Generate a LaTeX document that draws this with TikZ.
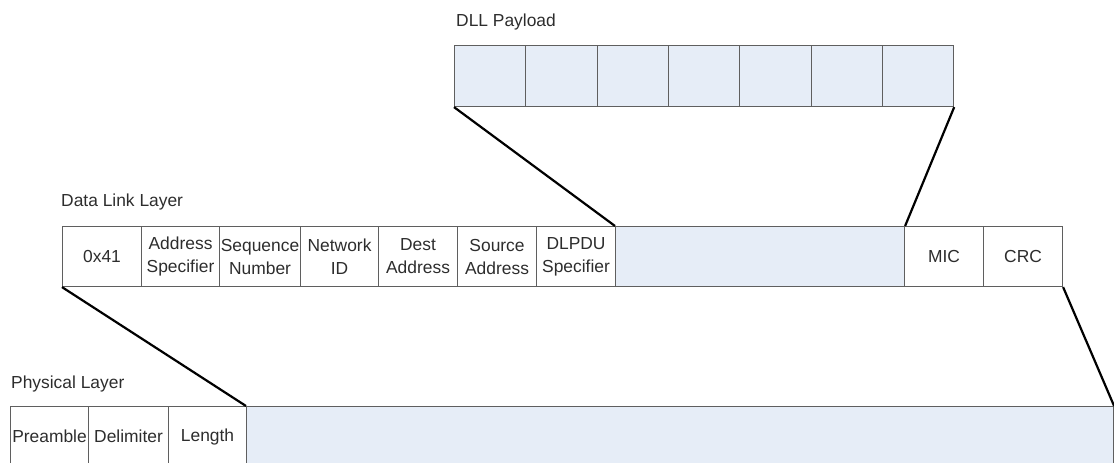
\documentclass[tikz,border=0pt]{standalone}
\usepackage{fontspec}
\setmainfont{Liberation Sans}
\definecolor{feldblau}{RGB}{230,237,247}
\definecolor{rahmen}{RGB}{95,95,95}
\definecolor{schrift}{RGB}{45,45,45}

\begin{document}
\begin{tikzpicture}[x=1pt,y=1pt,
    zelle/.style={draw=rahmen, line width=1.1pt, anchor=north west, minimum height=60pt, inner sep=0pt, align=center, text=schrift, font=\fontsize{17.4}{23}\selectfont},
    nutz/.style={zelle, fill=feldblau},
    titel/.style={anchor=west, inner sep=0pt, text=schrift, font=\fontsize{17.4}{23}\selectfont},
    verbind/.style={line width=2.2pt, black}]
    \useasboundingbox (0,0) rectangle (1114,463);
    \def\feld#1#2#3#4{
    \node[zelle, minimum width=#3] (#1) at #2 {#4};
    }

    % DLL Payload
    \node[titel] (payloadtitel) at (456,441) {DLL Payload};
    \foreach \i in {1,...,7}
        \node[nutz, minimum width=71.3pt, minimum height=61pt] (nutz\i) at ({454+(\i-1)*71.3},418) {};

    % Data Link Layer
    \node[titel] (dlltitel) at (61,261) {Data Link Layer};
    \feld{kennung}{(62,237)}{79pt}{0x41};
    \feld{adrspez}{(141,237)}{78pt}{Address\\Specifier};
    \feld{seqnr}{(219,237)}{81pt}{Sequence\\Number};
    \feld{netzid}{(300,237)}{78pt}{Network\\ID};
    \feld{zieladr}{(378,237)}{79pt}{Dest\\Address};
    \feld{quelladr}{(457,237)}{79pt}{Source\\Address};
    \feld{dlpdu}{(536,237)}{79pt}{DLPDU\\Specifier};
    \node[nutz, minimum width=289pt] (dllnutz) at (615,237) {};
    \feld{mic}{(904,237)}{79pt}{MIC};
    \feld{crc}{(983,237)}{79pt}{CRC};

    % Physical Layer
    \node[titel] (phytitel) at (11,79) {Physical Layer};
    \feld{praeambel}{(10,57)}{78pt}{Preamble};
    \feld{begrenzer}{(88,57)}{80pt}{Delimiter};
    \feld{laenge}{(168,57)}{78pt}{Length};
    \node[nutz, minimum width=867pt] (phynutz) at (246,57) {};

    % Verbindungen
    \draw[verbind] (nutz1.south west) -- (dllnutz.north west);
    \draw[verbind] (nutz7.south east) -- (dllnutz.north east);
    \draw[verbind] (kennung.south west) -- (phynutz.north west);
    \draw[verbind] (crc.south east) -- (phynutz.north east);

\end{tikzpicture}
\end{document}
